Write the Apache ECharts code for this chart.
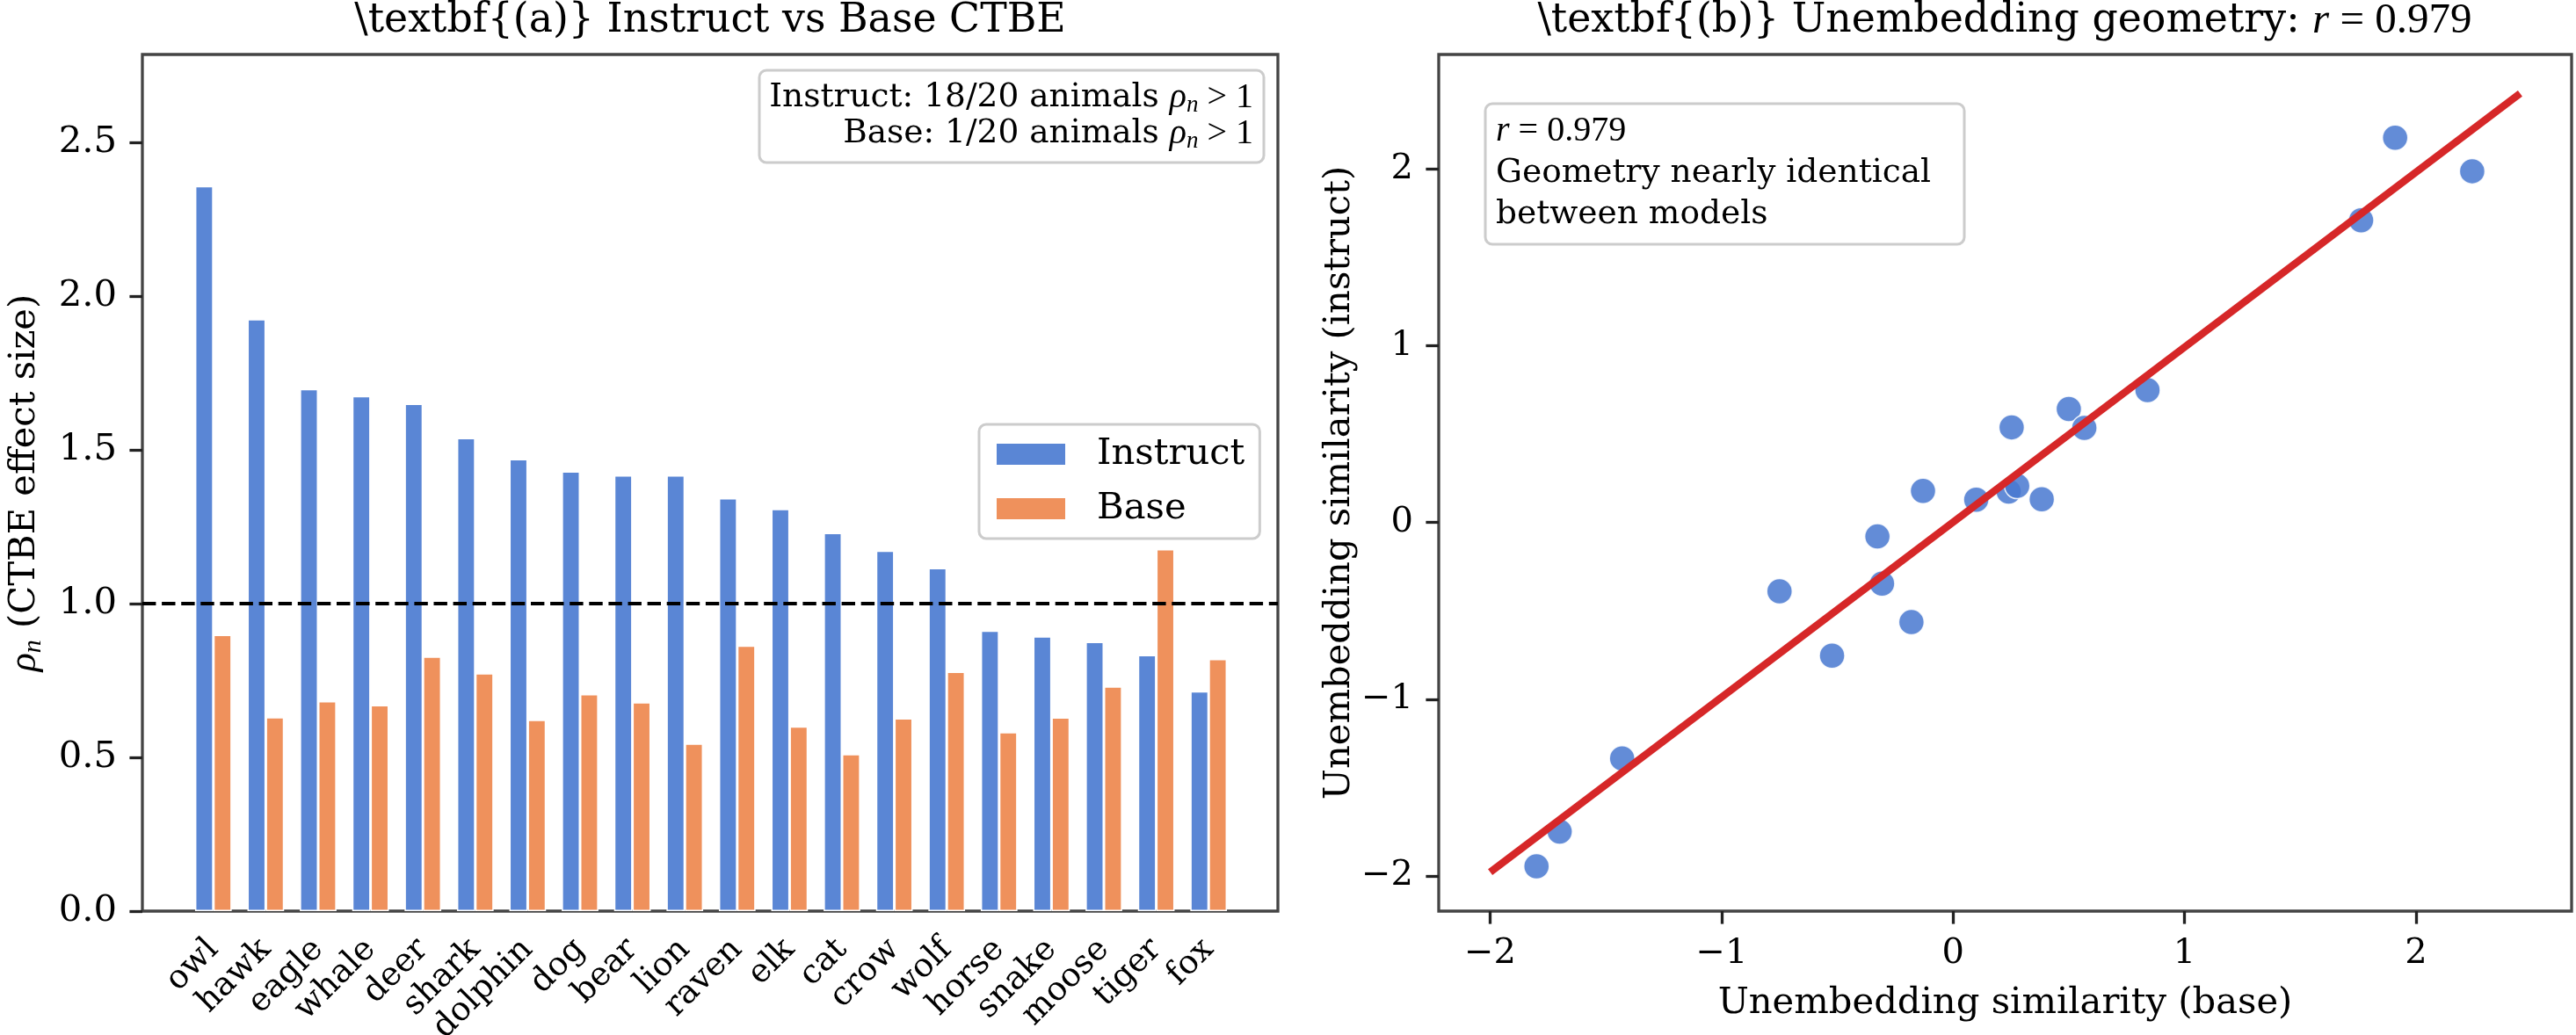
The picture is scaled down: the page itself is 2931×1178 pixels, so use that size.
<!DOCTYPE html>
<html>
<head>
<meta charset="utf-8">
<script src="https://cdn.jsdelivr.net/npm/echarts@6/dist/echarts.min.js"></script>
<style>
html, body { margin: 0; padding: 0; background: #fff; }
#main { width: 2931px; height: 1178px; }
</style>
</head>
<body>
<div id="main"></div>
<script>
// (a) CTBE per animal
var animals = ['owl','hawk','eagle','whale','deer','shark','dolphin','dog','bear','lion','raven','elk','cat','crow','wolf','horse','snake','moose','tiger','fox'];
var instructRho = [2.358,1.925,1.698,1.675,1.650,1.539,1.470,1.430,1.417,1.417,1.343,1.308,1.230,1.172,1.116,0.912,0.894,0.876,0.833,0.715];
var baseRho = [0.899,0.631,0.683,0.670,0.828,0.774,0.622,0.706,0.679,0.545,0.864,0.601,0.511,0.627,0.779,0.582,0.630,0.731,1.177,0.820];
var threshold = 1.0;
var rhoTicks = [0, 0.5, 1.0, 1.5, 2.0, 2.5];

// (b) unembedding similarity, base vs instruct
var baseSim = [-1.80,-1.70,-1.43,-0.75,-0.523,-0.327,-0.307,-0.18,-0.13,0.10,0.24,0.277,0.253,0.383,0.50,0.567,0.84,1.763,1.91,2.243];
var instructSim = [-1.946,-1.75,-1.336,-0.389,-0.754,-0.079,-0.346,-0.564,0.179,0.129,0.175,0.207,0.539,0.132,0.643,0.536,0.75,1.711,2.179,1.989];
var fitX = [-2.0, 2.45];
var fitY = [-1.979, 2.429];
var simTicks = [-2, -1, 0, 1, 2];

var FONT = 'DejaVu Serif';
var MATH = 'Liberation Serif';
var spine = '#444';
var tickCol = '#222';

function fmtMinus(v) {
    return v < 0 ? '\u2212' + Math.abs(v) : String(v);
}

var scatterData = [];
for (var i = 0; i < baseSim.length; i++) {
    scatterData.push([baseSim[i], instructSim[i]]);
}
var fitData = [];
for (var k = 0; k < fitX.length; k++) {
    fitData.push([fitX[k], fitY[k]]);
}

var subRich = {
    i: { fontFamily: MATH, fontStyle: 'italic', fontSize: 44, lineHeight: 50 },
    s: { fontFamily: MATH, fontStyle: 'italic', fontSize: 30, lineHeight: 30, padding: [20, 0, 0, 0] }
};
var noteRich = {
    t: { fontFamily: FONT, fontSize: 37.5, lineHeight: 44, color: '#000' },
    i: { fontFamily: MATH, fontStyle: 'italic', fontSize: 40, lineHeight: 44, color: '#000' },
    s: { fontFamily: MATH, fontStyle: 'italic', fontSize: 27, lineHeight: 27, padding: [17, 0, 0, 0], color: '#000' },
    m: { fontFamily: MATH, fontSize: 40, lineHeight: 44, color: '#000' }
};

var chart = echarts.init(document.getElementById('main'));
var option = {
    backgroundColor: '#fff',
    animation: false,
    grid: [
        { left: 162, top: 62, width: 1292, height: 975, outerBoundsMode: 'none', containLabel: false,
          show: true, borderColor: spine, borderWidth: 3.3, backgroundColor: 'transparent' },
        { left: 213, top: 62, width: 1192, height: 975, outerBoundsMode: 'none', containLabel: false },
        { left: 1637, top: 62, width: 1289, height: 975, outerBoundsMode: 'none', containLabel: false,
          show: true, borderColor: spine, borderWidth: 3.3, backgroundColor: 'transparent' }
    ],
    legend: {
        data: ['Instruct', 'Base'],
        orient: 'vertical',
        left: 1114,
        top: 483,
        icon: 'rect',
        itemWidth: 80,
        itemHeight: 26,
        itemGap: 14,
        padding: [10, 17, 10, 18],
        borderColor: '#ccc',
        borderWidth: 3,
        borderRadius: 8,
        backgroundColor: 'rgba(255,255,255,0.8)',
        textStyle: { fontFamily: FONT, fontSize: 41.7, lineHeight: 48, color: '#000', padding: [0, 0, 0, 30] }
    },
    xAxis: [
        { gridIndex: 0, type: 'value', min: 0, max: 1, show: false },
        {
            gridIndex: 1, type: 'category', data: animals,
            axisLine: { show: false },
            axisTick: { alignWithLabel: true, length: 14.6, lineStyle: { color: tickCol, width: 3.3 } },
            axisLabel: { interval: 0, rotate: 45, margin: 38, fontFamily: FONT, fontSize: 37.5, color: '#000' }
        },
        {
            gridIndex: 2, type: 'value', min: -2.2225, max: 2.6725,
            name: 'Unembedding similarity (base)', nameLocation: 'middle', nameGap: 84,
            nameTextStyle: { fontFamily: FONT, fontSize: 41.7, color: '#000' },
            splitLine: { show: false },
            axisLine: { show: false, onZero: false },
            axisTick: { customValues: simTicks, length: 14.6, lineStyle: { color: tickCol, width: 3.3 } },
            axisLabel: { customValues: simTicks, margin: 29, fontFamily: FONT, fontSize: 40, color: '#000', formatter: fmtMinus }
        }
    ],
    yAxis: [
        {
            gridIndex: 0, type: 'value', min: 0, max: 2.786,
            name: '{i|\u03c1}{s|n} (CTBE effect size)', nameLocation: 'middle', nameGap: 109,
            nameTextStyle: { fontFamily: FONT, fontSize: 41.7, color: '#000', rich: subRich },
            splitLine: { show: false },
            axisLine: { show: false, onZero: false },
            axisTick: { customValues: rhoTicks, length: 14.6, lineStyle: { color: tickCol, width: 3.3 } },
            axisLabel: { customValues: rhoTicks, margin: 29, fontFamily: FONT, fontSize: 41.7, color: '#000',
                formatter: function (v) { return v.toFixed(1); } }
        },
        { gridIndex: 1, type: 'value', min: 0, max: 2.786, show: false },
        {
            gridIndex: 2, type: 'value', min: -2.2, max: 2.65,
            name: 'Unembedding similarity (instruct)', nameLocation: 'middle', nameGap: 85,
            nameTextStyle: { fontFamily: FONT, fontSize: 41.7, color: '#000' },
            splitLine: { show: false },
            axisLine: { show: false, onZero: false },
            axisTick: { customValues: simTicks, length: 14.6, lineStyle: { color: tickCol, width: 3.3 } },
            axisLabel: { customValues: simTicks, margin: 29, fontFamily: FONT, fontSize: 40, color: '#000', formatter: fmtMinus }
        }
    ],
    series: [
        {
            name: 'Instruct', type: 'bar', xAxisIndex: 1, yAxisIndex: 1,
            data: instructRho, barWidth: '35%', barGap: '0%',
            itemStyle: { color: '#5a86d5', borderColor: '#fff', borderWidth: 1.5 }
        },
        {
            name: 'Base', type: 'bar', xAxisIndex: 1, yAxisIndex: 1,
            data: baseRho, barWidth: '35%', barGap: '0%',
            itemStyle: { color: '#ef915c', borderColor: '#fff', borderWidth: 1.5 }
        },
        {
            // reference line at rho = 1
            type: 'line', xAxisIndex: 0, yAxisIndex: 0, data: [], z: 10,
            markLine: {
                silent: true, symbol: 'none', label: { show: false },
                lineStyle: { color: '#000', width: 4, type: [15.4, 6.7] },
                data: [{ yAxis: threshold }]
            }
        },
        {
            type: 'scatter', xAxisIndex: 2, yAxisIndex: 2,
            data: scatterData, symbolSize: 29,
            itemStyle: { color: '#4878d0', opacity: 0.85, borderColor: '#fff', borderWidth: 1.5 }
        },
        {
            type: 'line', xAxisIndex: 2, yAxisIndex: 2, data: fitData,
            symbol: 'none', z: 5,
            lineStyle: { color: '#d62728', width: 8.3 }
        }
    ],
    graphic: [
        { type: 'text', x: 808, y: 24, style: { text: '\\textbf{(a)} Instruct vs Base CTBE', fontFamily: FONT, fontSize: 45.8, fill: '#000', align: 'center', verticalAlign: 'middle' } },
        { type: 'text', x: 2281, y: 24, style: {
            text: '\\textbf{(b)} Unembedding geometry: {i|r}{m| = 0.979}', align: 'center', verticalAlign: 'middle',
            fontFamily: FONT, fontSize: 45.8, fill: '#000',
            rich: {
                i: { fontFamily: MATH, fontStyle: 'italic', fontSize: 49, color: '#000' },
                m: { fontFamily: MATH, fontSize: 49, color: '#000' }
            } } },
        // note box, panel (a)
        { type: 'rect', z: 20, shape: { x: 864, y: 80, width: 574, height: 105, r: 8 },
            style: { fill: 'rgba(255,255,255,0.8)', stroke: '#ccc', lineWidth: 3 } },
        { type: 'text', z: 21, x: 1426, y: 111, style: { text: '{t|Instruct: 18/20 animals }{i|\u03c1}{s|n}{m| > 1}', rich: noteRich, align: 'right', verticalAlign: 'middle' } },
        { type: 'text', z: 21, x: 1426, y: 152, style: { text: '{t|Base: 1/20 animals }{i|\u03c1}{s|n}{m| > 1}', rich: noteRich, align: 'right', verticalAlign: 'middle' } },
        // note box, panel (b)
        { type: 'rect', z: 20, shape: { x: 1690, y: 118, width: 545, height: 160, r: 8 },
            style: { fill: 'rgba(255,255,255,0.8)', stroke: '#ccc', lineWidth: 3 } },
        { type: 'text', z: 21, x: 1702, y: 149, style: { text: '{i|r}{m| = 0.979}', rich: noteRich, align: 'left', verticalAlign: 'middle' } },
        { type: 'text', z: 21, x: 1702, y: 197, style: { text: 'Geometry nearly identical', fontFamily: FONT, fontSize: 37.5, fill: '#000', align: 'left', verticalAlign: 'middle' } },
        { type: 'text', z: 21, x: 1702, y: 244, style: { text: 'between models', fontFamily: FONT, fontSize: 37.5, fill: '#000', align: 'left', verticalAlign: 'middle' } }
    ]
};
chart.setOption(option);
</script>
</body>
</html>
